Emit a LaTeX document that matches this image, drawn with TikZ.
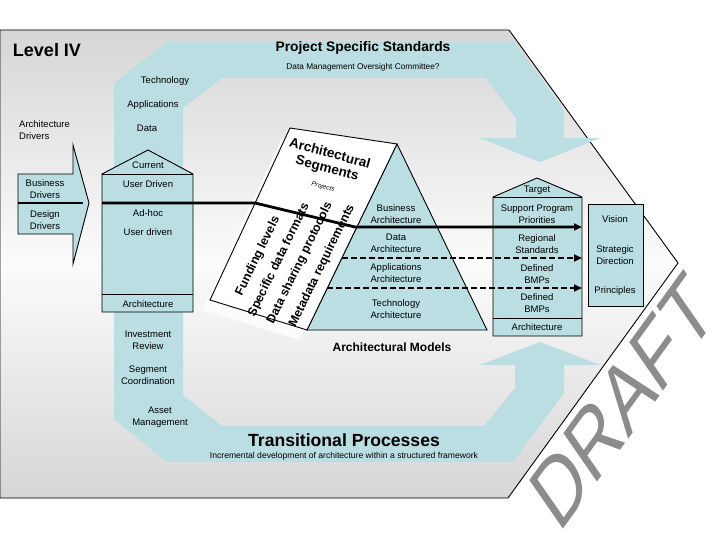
\documentclass[tikz,border=0pt]{standalone}
\usepackage{fontspec}
\setmainfont{Liberation Sans}
\usetikzlibrary{arrows.meta}
\definecolor{band}{RGB}{186,222,226}
\definecolor{bgedge}{RGB}{214,214,214}
\definecolor{bgmid}{RGB}{251,251,251}
\definecolor{draftgray}{RGB}{140,140,140}
\begin{document}
\begin{tikzpicture}[x=1pt,y=-1pt,
  txt/.style={font=\fontsize{9.5}{12}\selectfont, align=center, inner sep=0pt},
  small/.style={font=\fontsize{8.3}{9}\selectfont, inner sep=0pt},
  boxline/.style={draw=black, line width=0.9pt},
  thickline/.style={line width=2.8pt, line cap=butt},
  dashline/.style={line width=1.9pt, dash pattern=on 6pt off 3pt},
  tip/.style={-{Triangle[length=8pt,width=7pt]}},
  rottxt/.style={font=\fontsize{12.3}{14}\selectfont\bfseries, inner sep=0pt, rotate=64},
  segtxt/.style={font=\fontsize{13.5}{15}\selectfont\bfseries, inner sep=0pt, rotate=-15}
]
\useasboundingbox (0,0) rectangle (720,540);
\fill[white] (0,0) rectangle (720,540);
% outer frame with gradient
\shade[top color=bgedge, bottom color=bgedge, middle color=bgmid]
  (0,30) -- (509,30) -- (678,263) -- (508,498) -- (0,498) -- cycle;
\draw[line width=0.9pt] (0,30) -- (509,30) -- (678,263) -- (508,498) -- (0,498) -- cycle;
% blue band
\fill[band] (114,419) -- (114,83) -- (167,42) -- (514,42) -- (564,110) -- (564,138)
  -- (600,138) -- (540,162) -- (480,138) -- (516,138) -- (516,118) -- (486,78)
  -- (222,78) -- (183,108) -- (183,395) -- (222,426) -- (484,426) -- (515,388)
  -- (515,365) -- (480,365) -- (540,342) -- (600,365) -- (564,365) -- (564,393)
  -- (513,462) -- (167,462) -- cycle;
% drivers arrow
\filldraw[fill=band, boxline] (18,174) -- (73,174) -- (73,145) -- (89,203) -- (73,264)
  -- (73,234) -- (18,234) -- cycle;
\coordinate (drvW) at (18,203);
\coordinate (drvE) at (83,203);
\draw[thickline] (drvW) -- (drvE);
% current house
\filldraw[fill=band, boxline] (102,312) -- (193,312) -- (193,174) -- (148,150) -- (102,174) -- cycle;
\draw[boxline] (102,174) -- (193,174);
\draw[boxline] (102,294) -- (193,294);
% pyramid
\filldraw[fill=band, boxline] (307,330) -- (487,330) -- (397,144) -- cycle;
% segments page
\fill[white, opacity=0.75] (282,138) -- (389,154) -- (299,340) -- (202,310) -- cycle;
\filldraw[fill=white, boxline] (290,128) -- (397,144) -- (307,330) -- (210,300) -- cycle;
% target house
\filldraw[fill=band, boxline] (493,336) -- (582,336) -- (582,197) -- (537,178) -- (493,197) -- cycle;
\draw[boxline] (493,197) -- (582,197);
\draw[boxline] (493,318) -- (582,318);
% vision box
\filldraw[fill=band, boxline] (588,204) rectangle (643,306);
% connectors
\coordinate (curW) at (102,203);
\coordinate (bend1) at (255,203);
\coordinate (bend2) at (355,227);
\coordinate (tgtE1) at (582,227);
\coordinate (pyrL2) at (342,258);
\coordinate (tgtE2) at (582,258);
\coordinate (pyrL3) at (327,288);
\coordinate (tgtE3) at (582,288);
\draw[thickline, tip] (curW) -- (bend1) -- (bend2) -- (tgtE1);
\draw[dashline, tip] (pyrL2) -- (tgtE2);
\draw[dashline, tip] (pyrL3) -- (tgtE3);
% titles
\node[font=\fontsize{18}{20}\selectfont\bfseries, inner sep=0pt] (lvl) at (47,50) {Level IV};
\node[font=\fontsize{13.8}{15}\selectfont\bfseries, inner sep=0pt] (pss) at (363,48) {Project Specific Standards};
\node[small] (dmoc) at (363,67) {Data Management Oversight Committee?};
\node[txt] (tech) at (165,81) {Technology};
\node[txt] (apps) at (153,105) {Applications};
\node[txt] (data) at (147,128) {Data};
\node[txt, align=left, anchor=west] (archdrv) at (19,130) {Architecture\\Drivers};
\node[txt] (busdrv) at (45,189.5) {Business\\Drivers};
\node[txt] (desdrv) at (45,220) {Design\\Drivers};
% current box texts
\node[txt] (cur) at (148,165) {Current};
\node[txt] (ud1) at (148,184) {User Driven};
\node[txt] (adhoc) at (148,213) {Ad-hoc};
\node[txt] (ud2) at (148,232) {User driven};
\node[txt] (carch) at (148,304) {Architecture};
\node[txt] (inv) at (148,340) {Investment\\Review};
\node[txt] (seg) at (148,375) {Segment\\Coordination};
\node[txt] (asset) at (160,417.5) {Asset\\Management};
% segments page texts
\node[segtxt] (as1) at (330,153) {Architectural};
\node[segtxt] (as2) at (327,169) {Segments};
\node[font=\fontsize{6.5}{7}\selectfont\itshape, inner sep=0pt, rotate=-15] (proj) at (323,187) {Projects};
\node[rottxt] (fund) at (258,256) {Funding levels};
\node[rottxt] (spec) at (279,260) {Specific data formats};
\node[rottxt] (share) at (300,263) {Data sharing protocols};
\node[rottxt] (meta) at (322,266) {Metadata requirements};
% pyramid texts
\node[txt] (busA) at (396,214) {Business\\Architecture};
\node[txt] (dataA) at (396,243.5) {Data\\Architecture};
\node[txt] (appA) at (396,273.5) {Applications\\Architecture};
\node[txt] (techA) at (396,309.5) {Technology\\Architecture};
\node[font=\fontsize{12}{14}\selectfont\bfseries, inner sep=0pt] (models) at (392,347) {Architectural Models};
% target texts
\node[txt] (tgt) at (537,190) {Target};
\node[txt] (spp) at (537,214) {Support Program\\Priorities};
\node[txt] (rs) at (537,244) {Regional\\Standards};
\node[txt] (bmp1) at (537,274) {Defined\\BMPs};
\node[txt] (bmp2) at (537,303.5) {Defined\\BMPs};
\node[txt] (tarch) at (537,327) {Architecture};
% vision texts
\node[txt] (vis) at (615,219.5) {Vision};
\node[txt] (strat) at (615,255.5) {Strategic\\Direction};
\node[txt] (princ) at (615,291) {Principles};
% bottom
\node[font=\fontsize{17.6}{19}\selectfont\bfseries, inner sep=0pt] (trans) at (344,440) {Transitional Processes};
\node[font=\fontsize{8.6}{9}\selectfont, inner sep=0pt] (incr) at (344,456) {Incremental development of architecture within a structured framework};
% watermark
\node[font=\fontsize{81}{83}\selectfont, text=draftgray, inner sep=0pt, rotate=54, xslant=0.35] (draft) at (622,401) {DRAFT};
\end{tikzpicture}
\end{document}
